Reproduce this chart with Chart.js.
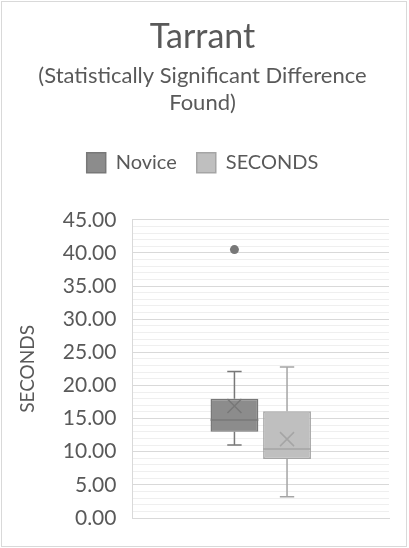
<!DOCTYPE html>
<html>
<head>
<meta charset="utf-8">
<script src="https://cdn.jsdelivr.net/npm/chart.js@4"></script>
<style>
  html, body { margin: 0; padding: 0; background: #fff; }
  #wrap { position: absolute; left: 1px; top: 1px; width: 406px; height: 546px;
          border: 1px solid #d9d9d9; box-sizing: border-box; }
  #box { position: absolute; left: 0; top: 0; width: 409px; height: 548px; }
</style>
</head>
<body>
<div id="wrap"></div>
<div id="box"><canvas id="tarrant" width="409" height="548"></canvas></div>
<script>
// groups and their five-number summaries (seconds)
const groups = ['Novice', 'SECONDS'];
const mins = [11.0, 3.2];
const q1s = [13.0, 8.9];
const medians = [14.8, 10.4];
const q3s = [18.0, 16.1];
const maxs = [22.1, 22.8];
const means = [16.9, 11.9];
const outliers = [[40.5], []];

const fills = ['#8c8c8c', '#bfbfbf'];
const lines = ['#787878', '#a5a5a5'];
const textGray = '#595959';
const fontFam = 'Lato, "Open Sans", sans-serif';

// whiskers, median, mean marker and outlying points on top of the boxes
const boxExtras = {
    id: 'boxExtras',
    afterDatasetsDraw(chart) {
        const ctx = chart.ctx;
        const y = chart.scales.y;
        groups.forEach((g, i) => {
            const bar = chart.getDatasetMeta(i).data[0];
            const x = bar.x;
            const w = bar.width;
            const cap = w * 0.15;
            ctx.save();
            ctx.strokeStyle = lines[i];
            ctx.lineWidth = 1.5;
            ctx.beginPath();
            ctx.moveTo(x, y.getPixelForValue(q3s[i]));
            ctx.lineTo(x, y.getPixelForValue(maxs[i]));
            ctx.moveTo(x - cap, y.getPixelForValue(maxs[i]));
            ctx.lineTo(x + cap, y.getPixelForValue(maxs[i]));
            ctx.moveTo(x, y.getPixelForValue(q1s[i]));
            ctx.lineTo(x, y.getPixelForValue(mins[i]));
            ctx.moveTo(x - cap, y.getPixelForValue(mins[i]));
            ctx.lineTo(x + cap, y.getPixelForValue(mins[i]));
            // median
            ctx.moveTo(x - w / 2, y.getPixelForValue(medians[i]));
            ctx.lineTo(x + w / 2, y.getPixelForValue(medians[i]));
            ctx.stroke();
            // mean as an x
            const my = y.getPixelForValue(means[i]);
            const s = 7;
            ctx.beginPath();
            ctx.moveTo(x - s, my - s);
            ctx.lineTo(x + s, my + s);
            ctx.moveTo(x + s, my - s);
            ctx.lineTo(x - s, my + s);
            ctx.stroke();
            // outliers
            ctx.fillStyle = lines[i];
            outliers[i].forEach(v => {
                ctx.beginPath();
                ctx.arc(x, y.getPixelForValue(v), 4.5, 0, Math.PI * 2);
                ctx.fill();
            });
            ctx.restore();
        });
    }
};

// leave extra room between the legend and the plot
const legendGap = {
    id: 'legendGap',
    beforeInit(chart) {
        const fit = chart.legend.fit;
        chart.legend.fit = function () {
            fit.call(this);
            this.height += 37;
        };
    }
};

const ctx = document.getElementById('tarrant').getContext('2d');

const tarrant = new Chart(ctx, {
    type: 'bar',
    data: {
        labels: [''],
        datasets: groups.map((g, i) => ({
            label: g,
            data: [[q1s[i], q3s[i]]],
            backgroundColor: fills[i],
            borderColor: lines[i],
            borderWidth: 1.5,
            borderSkipped: false,
            categoryPercentage: 0.41,
            barPercentage: 0.91
        }))
    },
    options: {
        responsive: false,
        animation: false,
        layout: { padding: { left: 16, right: 20, top: 14, bottom: 22 } },
        plugins: {
            title: {
                display: true,
                text: 'Tarrant',
                color: textGray,
                font: { family: fontFam, size: 34, weight: 'normal' },
                padding: { top: 3, bottom: 4 }
            },
            subtitle: {
                display: true,
                text: ['(Statistically Significant Difference', 'Found)'],
                color: textGray,
                font: { family: fontFam, size: 22, weight: 'normal', lineHeight: 1.25 },
                padding: { top: 0, bottom: 16 }
            },
            legend: {
                position: 'top',
                labels: {
                    color: textGray,
                    font: { family: fontFam, size: 20 },
                    boxWidth: 19,
                    boxHeight: 20,
                    padding: 20
                }
            },
            tooltip: { enabled: false }
        },
        scales: {
            x: {
                ticks: { display: false },
                grid: { display: false },
                border: { display: true, color: '#d9d9d9', width: 1 }
            },
            y: {
                min: 0,
                max: 45,
                ticks: {
                    stepSize: 1,
                    autoSkip: false,
                    color: textGray,
                    font: { family: fontFam, size: 21 },
                    padding: 16,
                    callback: v => (v % 5 === 0 ? v.toFixed(2) : '')
                },
                grid: {
                    drawTicks: false,
                    color: c => (c.tick.value % 5 === 0 ? '#d9d9d9' : '#efefef'),
                    lineWidth: 1
                },
                border: { display: true, color: '#d9d9d9', width: 1 },
                title: {
                    display: true,
                    text: 'SECONDS',
                    color: textGray,
                    font: { family: fontFam, size: 19 },
                    padding: { top: 0, bottom: 8 }
                }
            }
        }
    },
    plugins: [boxExtras, legendGap]
});
</script>
</body>
</html>
